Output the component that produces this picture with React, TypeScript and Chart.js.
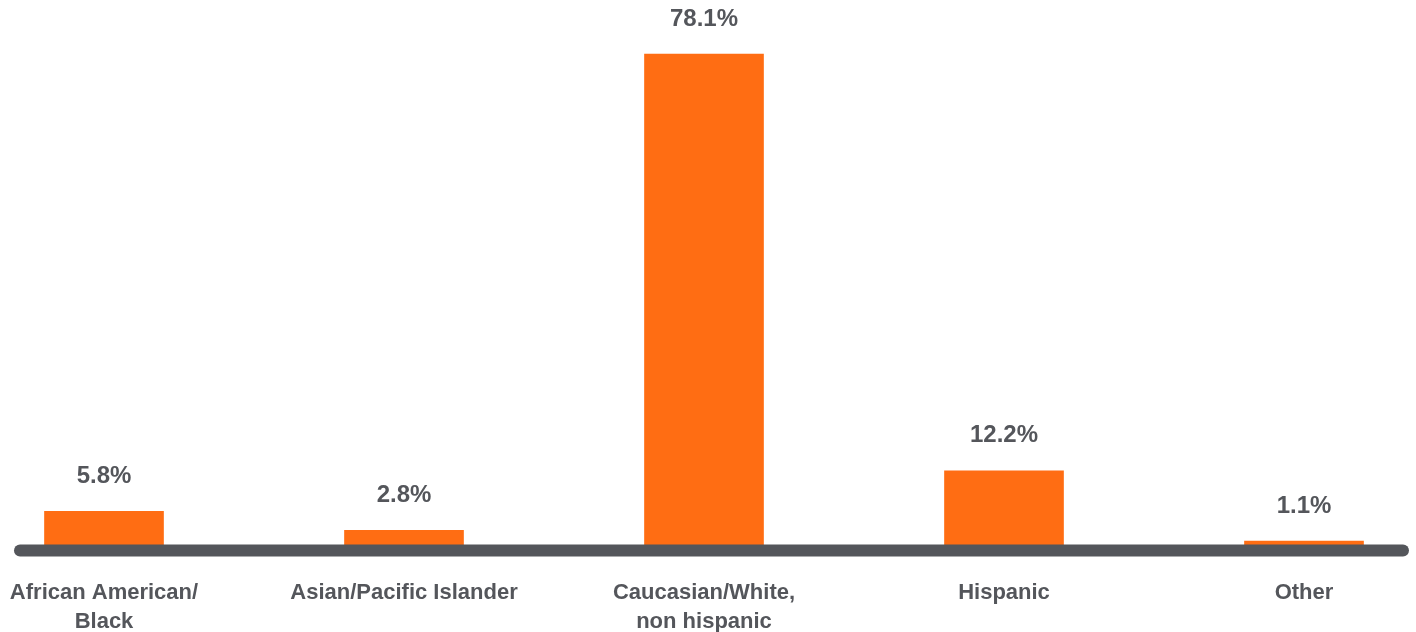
import React, { useEffect, useRef } from "react";
import { Chart, registerables } from "chart.js";

Chart.register(...registerables);

const categories: (string | string[])[] = [
  ["African American/", "Black"],
  "Asian/Pacific Islander",
  ["Caucasian/White,", "non hispanic"],
  "Hispanic",
  "Other",
];
const values: number[] = [5.8, 2.8, 78.1, 12.2, 1.1];
const valueLabels: string[] = ["5.8%", "2.8%", "78.1%", "12.2%", "1.1%"];

const ORANGE = "#FF6D13";
const GRAY = "#54565B";
const FONT = "'Liberation Sans', Arial, Helvetica, sans-serif";

const baselinePlugin = {
  id: "baselineAndLabels",
  afterDatasetsDraw(chart: any) {
    const { ctx, chartArea, scales } = chart;
    const y0 = scales.y.getPixelForValue(0);
    ctx.save();
    ctx.strokeStyle = GRAY;
    ctx.lineWidth = 12;
    ctx.lineCap = "round";
    ctx.beginPath();
    ctx.moveTo(chartArea.left - 84, y0 + 2.5);
    ctx.lineTo(chartArea.right + 99, y0 + 2.5);
    ctx.stroke();

    const meta = chart.getDatasetMeta(0);
    ctx.fillStyle = GRAY;
    ctx.font = `bold 24px ${FONT}`;
    ctx.textAlign = "center";
    ctx.textBaseline = "middle";
    meta.data.forEach((bar: any, i: number) => {
      ctx.fillText(valueLabels[i], bar.x, bar.y - 35);
    });
    ctx.restore();
  },
};

export default function App() {
  const canvasRef = useRef<HTMLCanvasElement | null>(null);

  useEffect(() => {
    if (!canvasRef.current) return;
    const chart = new Chart(canvasRef.current, {
      type: "bar",
      data: {
        labels: categories,
        datasets: [
          {
            data: values,
            backgroundColor: ORANGE,
            borderWidth: 0,
            barThickness: 119,
            clip: false as any,
          },
        ],
      },
      options: {
        animation: false,
        responsive: false,
        maintainAspectRatio: false,
        layout: { padding: { left: 104, right: 112, top: 42, bottom: 0 } },
        plugins: {
          legend: { display: false },
          tooltip: { enabled: false },
        },
        scales: {
          x: {
            offset: false,
            grid: { display: false, drawTicks: false },
            border: { display: false },
            ticks: {
              color: GRAY,
              font: { family: FONT, size: 22, weight: "bold", lineHeight: 1.32 },
              padding: 30,
              maxRotation: 0,
              autoSkip: false,
            },
            afterFit: (scale: any) => {
              scale.height = 84;
              scale.paddingLeft = 0;
              scale.paddingRight = 0;
            },
          },
          y: {
            display: false,
            min: 0,
            max: 80,
          },
        },
      },
      plugins: [baselinePlugin],
    });
    return () => chart.destroy();
  }, []);

  return (
    <div style={{ position: "absolute", left: 0, top: 0, width: 1416, height: 632, background: "#fff" }}>
      <canvas ref={canvasRef} width={1416} height={632} />
    </div>
  );
}
